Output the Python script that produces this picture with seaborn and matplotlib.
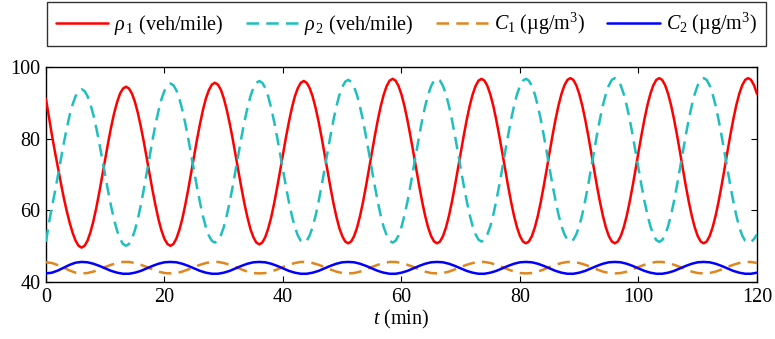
import matplotlib
matplotlib.use("Agg")
import matplotlib.pyplot as plt
import numpy as np
import pandas as pd
import seaborn as sns

# time grids (min)
t_rho = np.arange(0, 241) * 0.5   # densities read every 0.5 min
t_c = np.arange(0, 121) * 1.0     # concentrations read every 1 min

# rho_1 (veh/mile)
rho1 = [
    91.0, 86.0, 81.0, 76.4, 72.0, 67.7, 63.5, 59.8, 56.5, 53.7, 51.5, 50.1, 49.6,
    50.1, 51.5, 53.9, 57.0, 60.8, 65.1, 69.7, 74.4, 79.0, 83.3, 87.1, 90.2, 92.6, 94.0, 94.5,
    94.0, 92.6, 90.3, 87.2, 83.4, 79.2, 74.6, 70.0, 65.4, 61.2, 57.4, 54.3, 52.0, 50.6, 50.1,
    50.6, 52.1, 54.5, 57.6, 61.5, 65.8, 70.5, 75.2, 79.9, 84.2, 88.1, 91.3, 93.6, 95.1, 95.6,
    95.1, 93.7, 91.3, 88.1, 84.3, 80.0, 75.4, 70.7, 66.1, 61.8, 58.0, 54.8, 52.5, 51.0, 50.5,
    51.0, 52.5, 54.9, 58.0, 61.9, 66.3, 70.9, 75.7, 80.4, 84.7, 88.6, 91.8, 94.1, 95.6, 96.1,
    95.6, 94.1, 91.8, 88.6, 84.8, 80.5, 75.8, 71.1, 66.5, 62.1, 58.3, 55.1, 52.8, 51.3, 50.8,
    51.3, 52.8, 55.2, 58.4, 62.3, 66.7, 71.4, 76.2, 80.8, 85.2, 89.1, 92.3, 94.7, 96.2, 96.7,
    96.2, 94.7, 92.3, 89.1, 85.2, 80.8, 76.2, 71.4, 66.7, 62.3, 58.4, 55.2, 52.8, 51.3, 50.8,
    51.3, 52.8, 55.2, 58.4, 62.3, 66.7, 71.4, 76.2, 80.8, 85.2, 89.1, 92.3, 94.7, 96.2, 96.7,
    96.2, 94.7, 92.3, 89.1, 85.2, 80.8, 76.2, 71.4, 66.7, 62.3, 58.4, 55.2, 52.8, 51.3, 50.8,
    51.3, 52.8, 55.2, 58.4, 62.3, 66.7, 71.4, 76.3, 81.0, 85.4, 89.3, 92.5, 94.9, 96.4, 96.9,
    96.4, 94.9, 92.5, 89.3, 85.4, 81.0, 76.3, 71.4, 66.7, 62.3, 58.4, 55.2, 52.8, 51.3, 50.8,
    51.3, 52.8, 55.2, 58.4, 62.3, 66.7, 71.4, 76.3, 81.0, 85.4, 89.3, 92.5, 94.9, 96.4, 96.9,
    96.4, 94.9, 92.5, 89.3, 85.4, 81.0, 76.3, 71.4, 66.7, 62.3, 58.4, 55.2, 52.8, 51.3, 50.8,
    51.3, 52.8, 55.2, 58.4, 62.3, 66.7, 71.4, 76.3, 81.0, 85.4, 89.3, 92.5, 94.9, 96.4, 96.9,
    96.4, 94.9, 92.5,
]

# rho_2 (veh/mile)
rho2 = [
    51.2, 56.5, 61.0, 65.1, 69.6, 74.2, 78.7, 82.9, 86.6, 89.6, 91.9, 93.3, 93.8,
    93.3, 91.9, 89.6, 86.6, 82.9, 78.7, 74.2, 69.7, 65.2, 61.0, 57.3, 54.3, 52.0, 50.6, 50.1,
    50.6, 52.1, 54.4, 57.6, 61.4, 65.8, 70.4, 75.1, 79.8, 84.1, 87.9, 91.1, 93.4, 94.9, 95.4,
    94.9, 93.5, 91.2, 88.1, 84.3, 80.1, 75.5, 70.9, 66.3, 62.1, 58.3, 55.2, 52.9, 51.5, 51.0,
    51.5, 53.0, 55.3, 58.5, 62.3, 66.6, 71.2, 75.9, 80.5, 84.8, 88.6, 91.8, 94.2, 95.6, 96.1,
    95.6, 94.2, 91.8, 88.6, 84.8, 80.5, 75.9, 71.2, 66.6, 62.3, 58.5, 55.3, 53.0, 51.5, 51.0,
    51.5, 53.0, 55.3, 58.5, 62.4, 66.7, 71.3, 76.1, 80.7, 85.1, 88.9, 92.1, 94.4, 95.9, 96.4,
    95.9, 94.4, 92.1, 88.9, 85.1, 80.7, 76.1, 71.3, 66.7, 62.4, 58.5, 55.3, 53.0, 51.5, 51.0,
    51.5, 53.0, 55.4, 58.6, 62.4, 66.8, 71.5, 76.2, 80.9, 85.3, 89.1, 92.3, 94.7, 96.2, 96.7,
    96.2, 94.7, 92.4, 89.2, 85.4, 81.0, 76.4, 71.6, 67.0, 62.7, 58.8, 55.6, 53.3, 51.8, 51.3,
    51.8, 53.3, 55.6, 58.8, 62.7, 67.0, 71.6, 76.4, 81.0, 85.4, 89.2, 92.4, 94.7, 96.2, 96.7,
    96.2, 94.7, 92.4, 89.2, 85.4, 81.0, 76.4, 71.6, 67.0, 62.7, 58.8, 55.6, 53.3, 51.8, 51.3,
    51.8, 53.3, 55.6, 58.8, 62.7, 67.0, 71.7, 76.5, 81.2, 85.5, 89.4, 92.5, 94.9, 96.4, 96.9,
    96.4, 94.9, 92.5, 89.3, 85.5, 81.1, 76.4, 71.7, 67.0, 62.6, 58.8, 55.6, 53.2, 51.7, 51.2,
    51.7, 53.2, 55.6, 58.8, 62.6, 67.0, 71.7, 76.4, 81.1, 85.5, 89.3, 92.5, 94.9, 96.4, 96.9,
    96.4, 94.9, 92.5, 89.3, 85.4, 81.0, 76.4, 71.6, 66.9, 62.5, 58.6, 55.4, 53.0, 51.5, 51.0,
    51.2, 52.0, 53.3,
]

# C_1 (ug/m^3)
c1 = [
    45.5, 45.3, 44.7, 44.0, 43.2, 42.6, 42.4,
    42.5, 42.9, 43.5, 44.2, 44.8, 45.3, 45.6, 45.6, 45.3, 44.8, 44.2, 43.5, 42.9, 42.5, 42.4,
    42.5, 42.9, 43.5, 44.2, 44.8, 45.3, 45.6, 45.6, 45.3, 44.8, 44.2, 43.5, 42.9, 42.5, 42.4,
    42.5, 42.9, 43.5, 44.2, 44.8, 45.3, 45.6, 45.6, 45.3, 44.8, 44.2, 43.5, 42.9, 42.5, 42.4,
    42.5, 42.9, 43.5, 44.2, 44.8, 45.3, 45.6, 45.6, 45.3, 44.8, 44.2, 43.5, 42.9, 42.5, 42.4,
    42.5, 42.9, 43.5, 44.2, 44.8, 45.3, 45.6, 45.6, 45.3, 44.8, 44.2, 43.5, 42.9, 42.5, 42.4,
    42.5, 42.9, 43.5, 44.2, 44.8, 45.3, 45.6, 45.6, 45.3, 44.8, 44.2, 43.5, 42.9, 42.5, 42.4,
    42.5, 42.9, 43.5, 44.2, 44.8, 45.3, 45.6, 45.6, 45.3, 44.8, 44.2, 43.5, 42.9, 42.5, 42.4,
    42.5, 42.9, 43.5, 44.2, 44.8, 45.3, 45.6, 45.6, 45.3,
]

# C_2 (ug/m^3)
c2 = [
    42.4, 42.6, 43.2, 44.0, 44.8, 45.4, 45.6,
    45.5, 45.1, 44.5, 43.8, 43.1, 42.6, 42.3, 42.3, 42.6, 43.1, 43.8, 44.5, 45.1, 45.5, 45.6,
    45.5, 45.1, 44.5, 43.8, 43.1, 42.6, 42.3, 42.3, 42.6, 43.1, 43.8, 44.5, 45.1, 45.5, 45.6,
    45.5, 45.1, 44.5, 43.8, 43.1, 42.6, 42.3, 42.3, 42.6, 43.1, 43.8, 44.5, 45.1, 45.5, 45.6,
    45.5, 45.1, 44.5, 43.8, 43.1, 42.6, 42.3, 42.3, 42.6, 43.1, 43.8, 44.5, 45.1, 45.5, 45.6,
    45.5, 45.1, 44.5, 43.8, 43.1, 42.6, 42.3, 42.3, 42.6, 43.1, 43.8, 44.5, 45.1, 45.5, 45.6,
    45.5, 45.1, 44.5, 43.8, 43.1, 42.6, 42.3, 42.3, 42.6, 43.1, 43.8, 44.5, 45.1, 45.5, 45.6,
    45.5, 45.1, 44.5, 43.8, 43.1, 42.6, 42.3, 42.3, 42.6, 43.1, 43.8, 44.5, 45.1, 45.5, 45.6,
    45.5, 45.1, 44.5, 43.8, 43.1, 42.6, 42.3, 42.3, 42.6,
]

series_labels = [
    r"$\rho_{\,1}$ (veh/mile)",
    r"$\rho_{\,2}$ (veh/mile)",
    r"$C_1$ (µg/m$^3$)",
    r"$C_2$ (µg/m$^3$)",
]
x_ticks = [0, 20, 40, 60, 80, 100, 120]
y_ticks = [40, 60, 80, 100]
x_label = r"$t$ (min)"

sns.set_theme(style="ticks")
plt.rcParams.update({
    "font.family": ["Liberation Serif", "DejaVu Serif"],
    "mathtext.fontset": "custom",
    "mathtext.rm": "Liberation Serif",
    "mathtext.it": "Liberation Serif:italic",
    "mathtext.bf": "Liberation Serif:bold",
    "xtick.direction": "in",
    "ytick.direction": "in",
    "xtick.top": True,
    "ytick.right": True,
    "axes.edgecolor": "black",
    "xtick.color": "black",
    "ytick.color": "black",
    "text.color": "black",
    "axes.labelcolor": "black",
})

FS = 14.5
fig = plt.figure(figsize=(7.75, 3.39), dpi=100)
ax = fig.add_axes([46 / 775, 1 - 282 / 339, (757 - 46) / 775, (282 - 67) / 339])

df_rho = pd.DataFrame({"t": t_rho, "rho1": rho1, "rho2": rho2})
df_c = pd.DataFrame({"t": t_c, "c1": c1, "c2": c2})
dash = (0, (5.0, 2.9))
styles = [
    (df_rho, "rho1", "#FF0000", "-"),
    (df_rho, "rho2", "#1FBFBF", dash),
    (df_c, "c1", "#E0861E", dash),
    (df_c, "c2", "#0000FF", "-"),
]
for (d, col, color, ls), lab in zip(styles, series_labels):
    sns.lineplot(data=d, x="t", y=col, ax=ax, color=color, linewidth=1.8,
                 linestyle=ls, label=lab, zorder=3,
                 solid_joinstyle="round", dash_joinstyle="round")

leg0 = ax.get_legend()
if leg0 is not None:
    leg0.remove()

ax.set_xlim(0, 120)
ax.set_ylim(40, 100)
ax.set_xticks(x_ticks)
ax.set_yticks(y_ticks)
ax.tick_params(axis="both", which="major", length=4, width=0.8, labelsize=FS, pad=4)
for sp in ax.spines.values():
    sp.set_linewidth(1.0)
    sp.set_color("black")
ax.set_xlabel(x_label, fontsize=FS, labelpad=1)
ax.set_ylabel("")

handles, labels = ax.get_legend_handles_labels()
leg = fig.legend(handles, labels, loc="upper left",
                 bbox_to_anchor=(47 / 775, 1 - 2 / 339, (766 - 47) / 775, 0),
                 mode="expand", ncol=4, frameon=True, fancybox=False,
                 fontsize=FS, handlelength=2.6, handletextpad=0.3,
                 borderaxespad=0, borderpad=0.45, columnspacing=1.0)
leg.get_frame().set_edgecolor("black")
leg.get_frame().set_linewidth(1.0)

fig.savefig("out.png", dpi=100)
